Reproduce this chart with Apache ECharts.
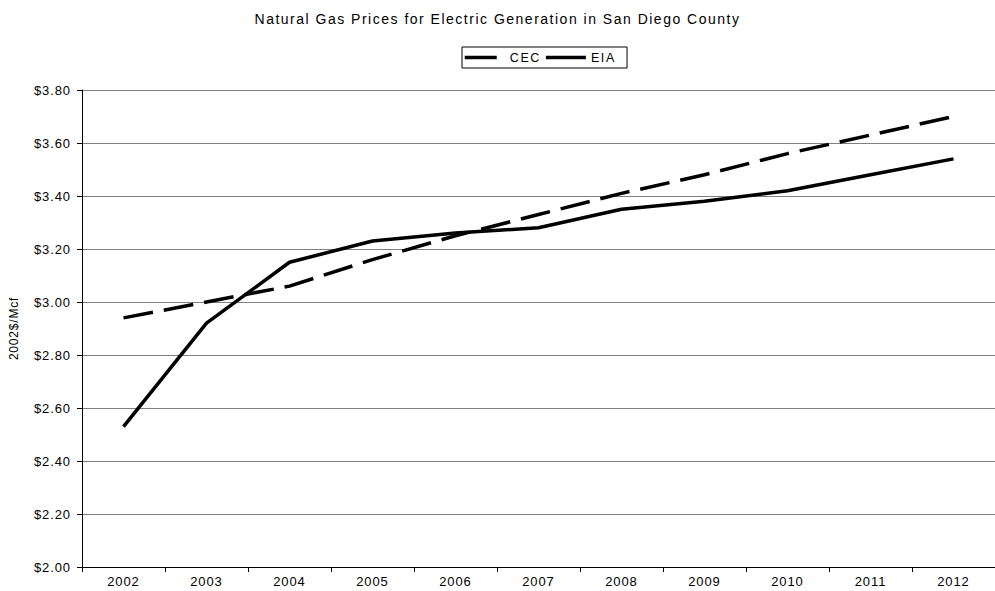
<!DOCTYPE html>
<html>
<head>
<meta charset="utf-8">
<title>Natural Gas Prices for Electric Generation in San Diego County</title>
<script src="https://cdn.jsdelivr.net/npm/echarts@6/dist/echarts.min.js"></script>
<style>
  html, body { margin: 0; padding: 0; background: #fff; }
  #chart { width: 995px; height: 591px; }
  /* 원본은 글자 간격이 넓음 (svg 렌더러 텍스트에 적용) */
  #chart text[style*="14px"] { letter-spacing: 1.5px; }
  #chart text[style*="13px"] { letter-spacing: 0.9px; }
  #chart text[style*="12.5px"] { letter-spacing: 1.6px; }
  #chart text[style*="12px"] { letter-spacing: 0.8px; }
</style>
</head>
<body>
<div id="chart"></div>
<script>
(function () {
  'use strict';

  // 값은 그림에서 눈으로 읽은 추정치
  const years = ['2002', '2003', '2004', '2005', '2006', '2007', '2008', '2009', '2010', '2011', '2012'];
  const cecPrices = [2.94, 3.00, 3.06, 3.16, 3.25, 3.33, 3.41, 3.48, 3.56, 3.63, 3.70];
  const eiaPrices = [2.53, 2.92, 3.15, 3.23, 3.26, 3.28, 3.35, 3.38, 3.42, 3.48, 3.54];
  const yMin = 2.0, yMax = 3.8, yStep = 0.2;

  const font = 'Arial, "Liberation Sans", sans-serif';
  const chart = echarts.init(document.getElementById('chart'), null, { renderer: 'svg' });

  chart.setOption({
    backgroundColor: '#fff',
    animation: false,
    title: {
      text: 'Natural Gas Prices for Electric Generation in San Diego County',
      left: 'center',
      top: 7,
      textStyle: { fontFamily: font, fontSize: 14, fontWeight: 'normal', color: '#000' }
    },
    legend: {
      top: 47,
      left: 462,
      padding: [4, 16, 4, 1],
      borderColor: '#000',
      borderWidth: 1,
      borderRadius: 0,
      itemWidth: 40,
      itemHeight: 14,
      itemGap: 8,
      itemStyle: { opacity: 0 },
      lineStyle: { width: 3.5 },
      textStyle: { fontFamily: font, fontSize: 12.5, color: '#000' },
      data: [
        { name: 'CEC', lineStyle: { type: [32, 10], width: 3.5 } },
        { name: 'EIA', lineStyle: { type: 'solid', width: 3.5 } }
      ]
    },
    grid: { left: 82, top: 90, width: 924, height: 477 },
    xAxis: {
      type: 'category',
      data: years,
      boundaryGap: true,
      axisLine: { lineStyle: { color: '#000', width: 1 } },
      axisTick: { show: true, length: 5, lineStyle: { color: '#000' } },
      axisLabel: { fontFamily: font, fontSize: 13, color: '#000', margin: 8 },
      splitLine: { show: false }
    },
    yAxis: {
      type: 'value',
      min: yMin,
      max: yMax,
      interval: yStep,
      name: '2002$/Mcf',
      nameLocation: 'middle',
      nameGap: 62,
      nameTextStyle: { fontFamily: font, fontSize: 12, color: '#000' },
      axisLine: { show: true, lineStyle: { color: '#000', width: 1 } },
      axisTick: { show: true, length: 5, lineStyle: { color: '#000' } },
      axisLabel: {
        fontFamily: font, fontSize: 13, color: '#000', margin: 11,
        formatter: v => '$' + v.toFixed(2)
      },
      splitLine: { show: true, lineStyle: { color: '#808080', width: 1 } }
    },
    series: [
      {
        name: 'CEC',
        type: 'line',
        data: cecPrices,
        symbol: 'none',
        lineStyle: { color: '#000', width: 3.5, type: [30, 11] },
        itemStyle: { color: '#000' }
      },
      {
        name: 'EIA',
        type: 'line',
        data: eiaPrices,
        symbol: 'none',
        lineStyle: { color: '#000', width: 3.5, type: 'solid' },
        itemStyle: { color: '#000' }
      }
    ]
  });

  window.addEventListener('resize', () => chart.resize());
})();
</script>
</body>
</html>
